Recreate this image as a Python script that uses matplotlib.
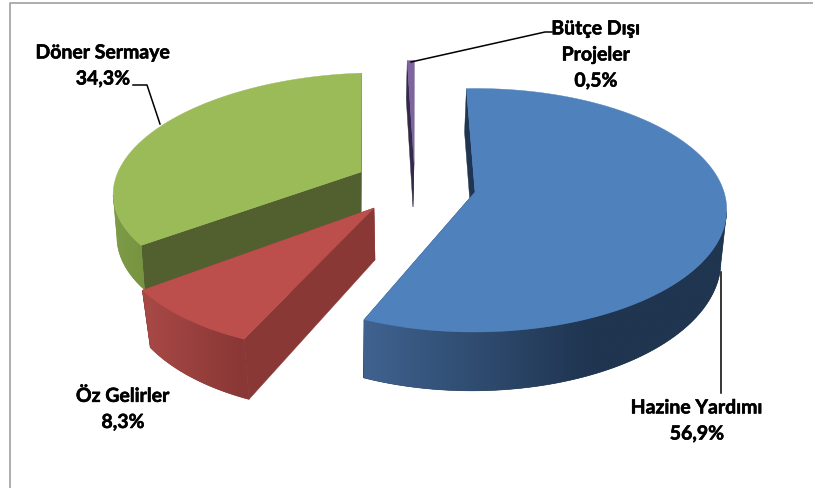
import numpy as np
import matplotlib
matplotlib.use('Agg')
import matplotlib.pyplot as plt
import matplotlib.patheffects as pe

# share of each budget source, clockwise from the top
labels = ['Hazine Yardımı', 'Öz Gelirler', 'Döner Sermaye', 'Bütçe Dışı\nProjeler']
values = [56.9, 8.3, 34.3, 0.5]
value_labels = ['56,9%', '8,3%', '34,3%', '0,5%']


def lerp_color(c1, c2, t):
    c1 = np.array(matplotlib.colors.to_rgb(c1))
    c2 = np.array(matplotlib.colors.to_rgb(c2))
    return c1 + (c2 - c1) * np.clip(t, 0, 1)[:, None]


# hand fitted projection of each exploded slice, in pixels
slices = [
    dict(apex=(475, 192), R=249, A=119, k=0.15, skew=-1, depth=50, shrink=0.985, shift=-2,
         top='#4F81BD', wall='#1F3552', side_light='#3F628F', side_dark='#1F3550', side_x=(365, 590)),
    dict(apex=(374, 208), R=253, A=122, k=0.15, skew=-17, depth=52, shrink=0.97, shift=1,
         top='#BC4F4C', wall='#8A3836', side_light='#A84946', side_dark='#8A3836', side_x=(145, 240)),
    dict(apex=(361, 172), R=243, A=111, k=0.12, skew=-19, depth=41, shrink=0.985, shift=0,
         top='#9BBB59', wall='#526030', side_light='#7E9C48', side_dark='#76933F', side_x=(115, 145)),
    dict(apex=(414, 163), R=250, A=118, k=0.15, skew=-11, depth=44, shrink=1.0, shift=-1,
         top='#8064A2', wall='#332A4A', side_light='#4A3A66', side_dark='#4A3A66', side_x=(400, 420)),
]


def project(sl, theta):
    # theta in degrees clockwise from 12 o'clock
    t = np.radians(theta)
    u, v = np.sin(t), -np.cos(t)
    s = 1 / (1 - sl['k'] * v)
    x = sl['apex'][0] + sl['R'] * u * s + sl['skew'] * v * s
    y = sl['apex'][1] + sl['A'] * v * s
    return x, y, s


def lower(sl, x, y, s):
    x0 = sl['apex'][0]
    return x0 + sl['shift'] + (x - x0) * sl['shrink'], y + sl['depth'] * s


def draw_slice(ax, sl, a0, a1, z):
    thetas = np.linspace(a0, a1, 200)
    x, y, s = project(sl, thetas)
    bx, by = lower(sl, x, y, s)
    ax0, ay0 = sl['apex']
    bax, bay = lower(sl, ax0, ay0, 1)

    # walls along the two cut edges
    for i in (0, -1):
        ax.fill([ax0, x[i], bx[i], bax], [ay0, y[i], by[i], bay], color=sl['wall'], lw=0.3, zorder=z)

    # outer rim shows between the rightmost and leftmost points of the full ellipse
    circle = np.arange(0, 360, 0.5)
    cx = project(sl, circle)[0]
    rim = (thetas >= circle[np.argmax(cx)]) & (thetas <= circle[np.argmin(cx)])
    if rim.sum() > 1:
        px = np.r_[x[rim], bx[rim][::-1]]
        py = np.r_[y[rim], by[rim][::-1]]
        poly = ax.fill(px, py, color=sl['side_dark'], lw=0.4, zorder=z)[0]
        xs = np.linspace(px.min(), px.max(), 200)
        lo, hi = sl['side_x']
        grad = lerp_color(sl['side_light'], sl['side_dark'], (xs - lo) / (hi - lo))[None, :, :]
        im = ax.imshow(grad, extent=(px.min(), px.max(), py.max(), py.min()), aspect='auto',
                       interpolation='bilinear', zorder=z + 0.5)
        im.set_clip_path(poly)

    ax.fill(np.r_[ax0, x], np.r_[ay0, y], color=sl['top'], lw=0.3, zorder=z + 1)


fig = plt.figure(figsize=(8.13, 4.88), dpi=100)
ax = fig.add_axes([0, 0, 1, 1])
ax.axis('off')

# chart frame, cut off by the crop at the right and the bottom
ax.plot([10, 10, 813], [488, 2.5, 2.5], color='#A0A0A0', lw=1.2, zorder=1)

total = sum(values)
start = -2.5
angles = []
for val in values:
    angles.append((start, start + val / total * 360))
    start += val / total * 360

# back to front: purple, green, red, blue
for idx, z in zip([3, 2, 1, 0], [3, 5, 7, 9]):
    draw_slice(ax, slices[idx], angles[idx][0], angles[idx][1], z)

# leader lines
ax.plot([133, 147, 160], [85, 85, 124], color='black', lw=1.1, zorder=12)
ax.plot([411, 545, 552], [62, 32, 32], color='black', lw=1.1, zorder=12)
ax.plot([721, 721], [272, 393], color='black', lw=1.1, zorder=12)

label_pos = [(697, 421), (123, 409), (103, 66), (596, 55)]
for name, val, (lx, ly) in zip(labels, value_labels, label_pos):
    ax.text(lx, ly, name + '\n' + val, ha='center', va='center', fontsize=14, fontweight='bold',
            family='Lato', linespacing=1.65, color='black', zorder=13,
            path_effects=[pe.withStroke(linewidth=0.4, foreground='black')])

ax.set_xlim(0, 813)
ax.set_ylim(488, 0)
fig.savefig('out.png', dpi=100)
